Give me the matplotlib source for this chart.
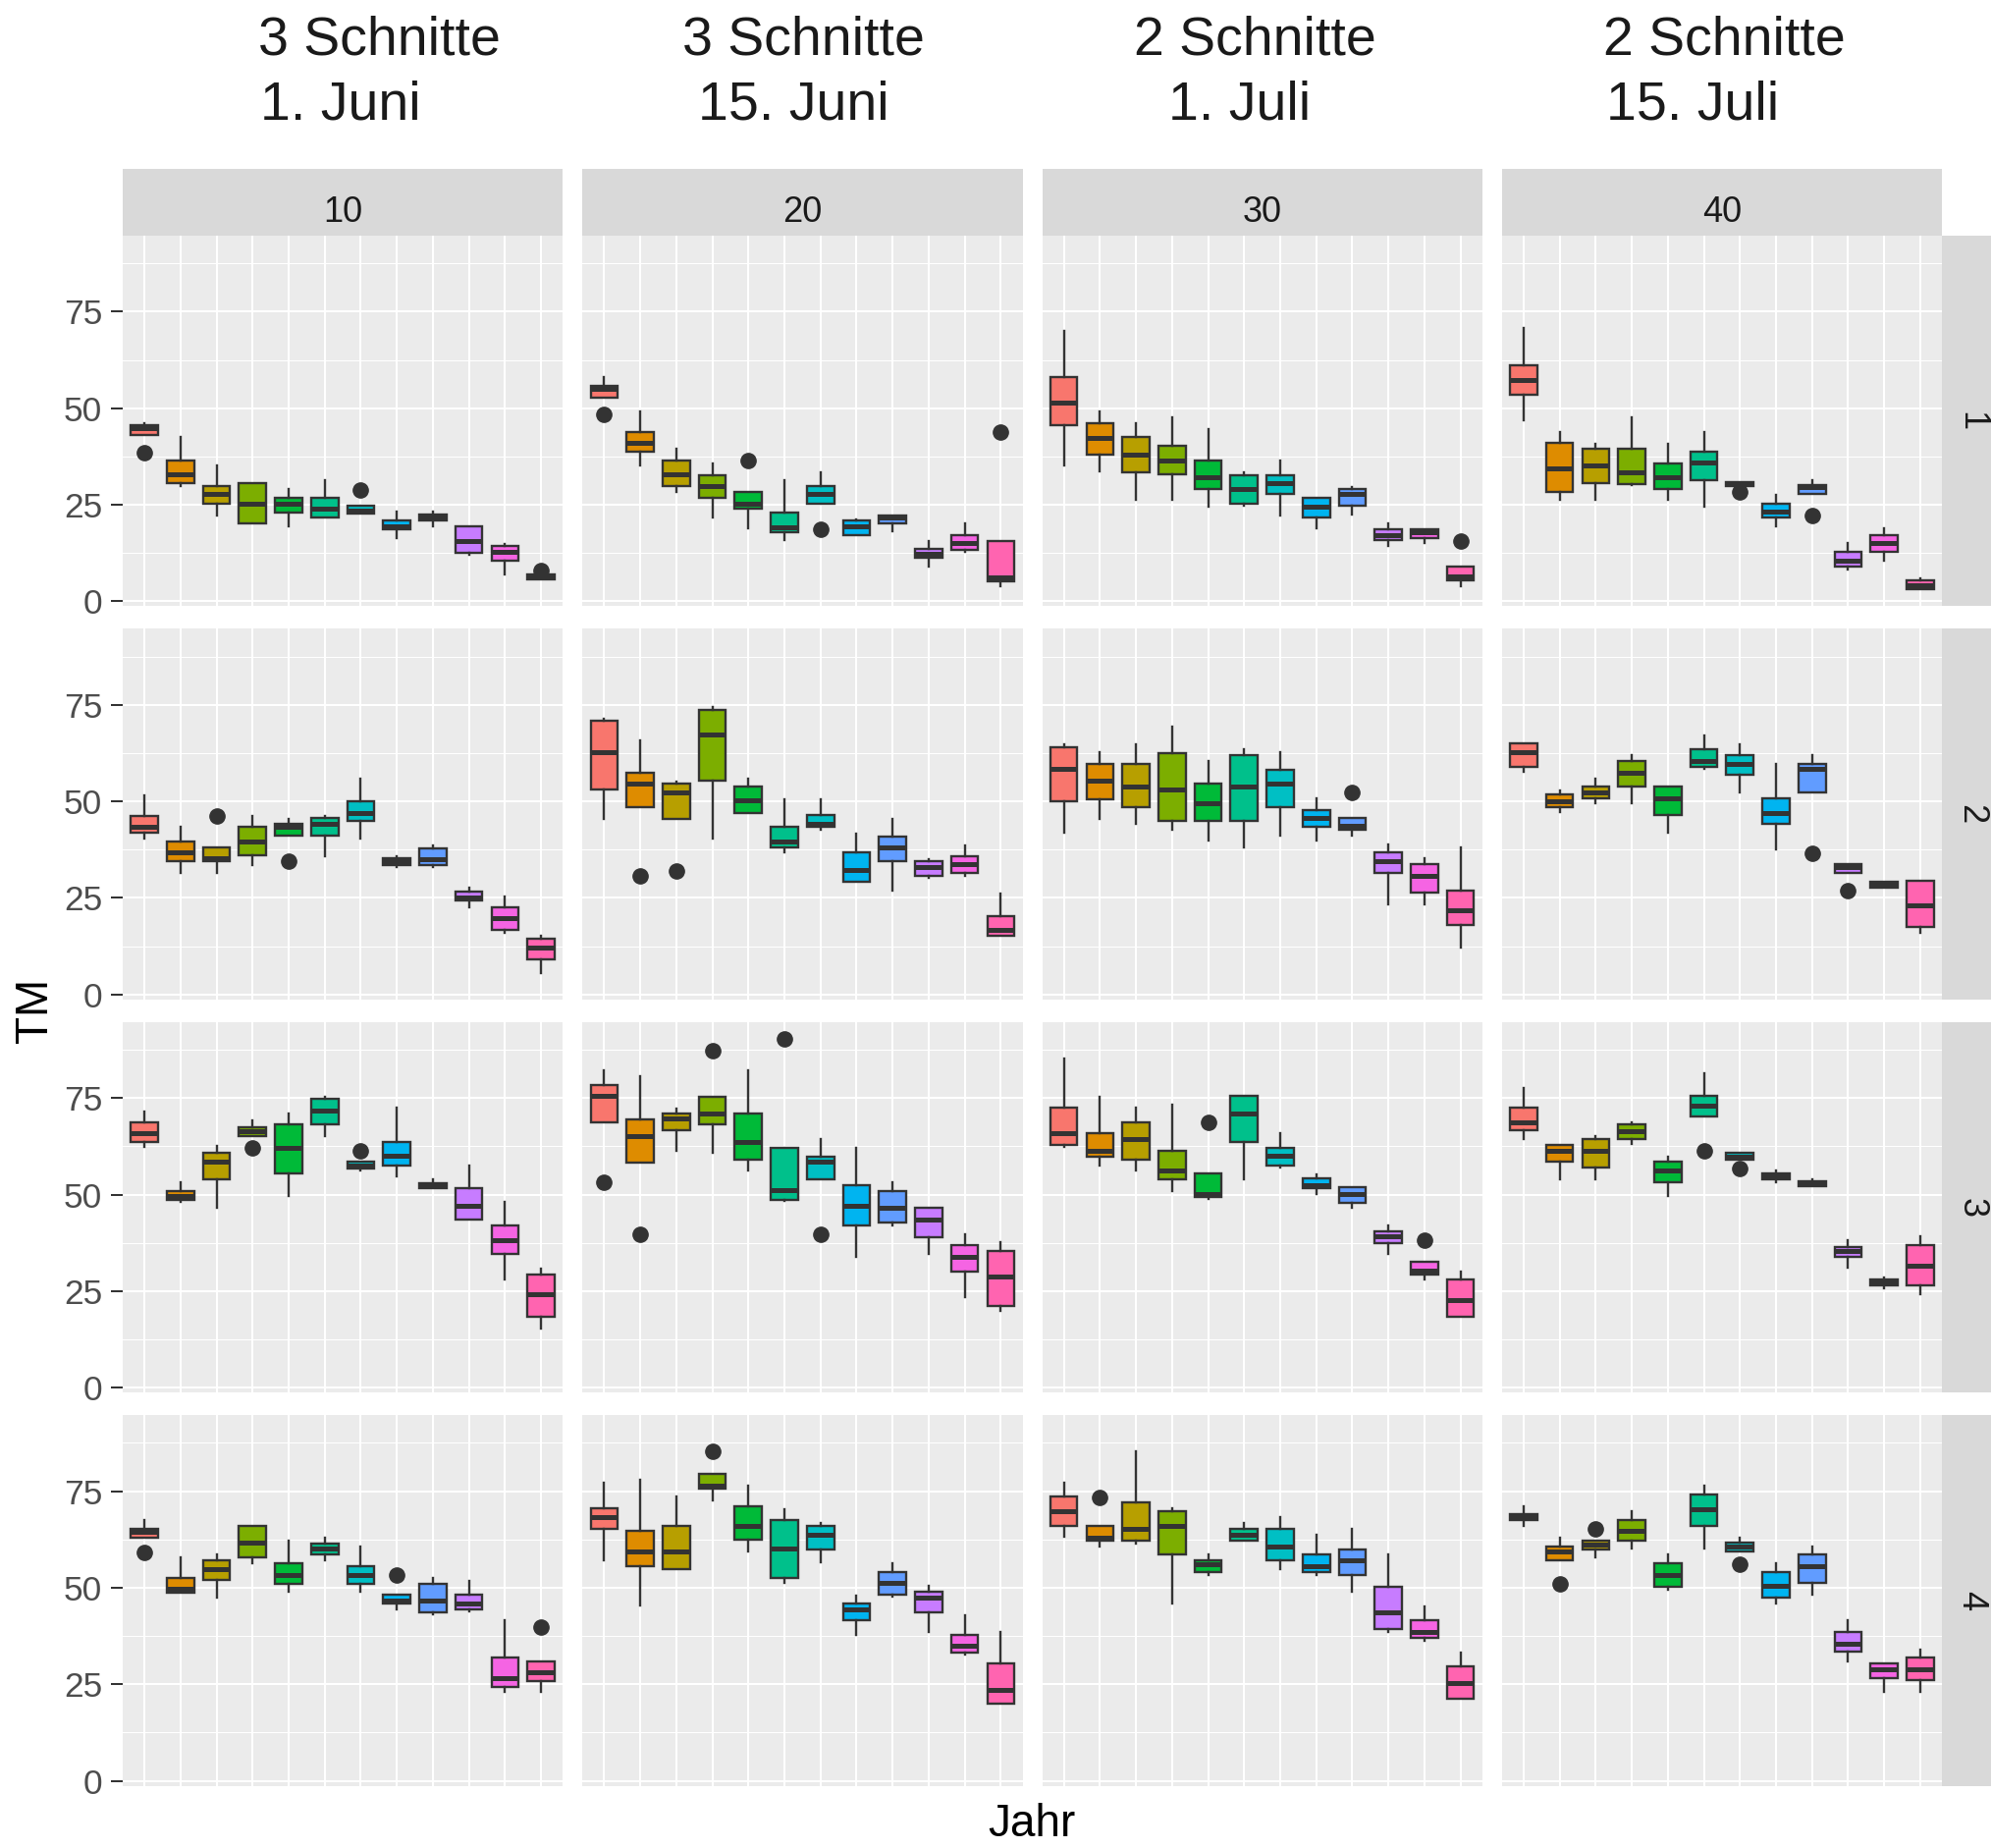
import numpy as np
import matplotlib.pyplot as plt

# facet labels and header
col_labels = ["10", "20", "30", "40"]
row_labels = ["1", "2", "3", "4"]
head_top = ["3 Schnitte", "3 Schnitte", "2 Schnitte", "2 Schnitte"]
head_bottom = ["1. Juni", "15. Juni", "1. Juli", "15. Juli"]
n_years = 12
year_colors = ["#F8766D", "#DE8C00", "#B79F00", "#7CAE00", "#00BA38", "#00C08B",
               "#00BFC4", "#00B4F0", "#619CFF", "#C77CFF", "#F564E3", "#FF64B0"]

# box stats per facet, one tuple per year: (whisker low, q1, median, q3, whisker high)
r1_c10 = [(43.0, 43.0, 44.8, 45.6, 46.1), (29.8, 30.6, 32.9, 36.5, 42.5), (22.3, 25.3, 27.7, 29.9, 35.1),
          (20.1, 20.1, 25.4, 30.6, 30.6), (19.4, 23.0, 25.2, 26.8, 29.0), (21.6, 21.6, 24.0, 26.8, 31.3),
          (22.8, 22.8, 23.5, 24.7, 24.7), (16.4, 18.7, 19.5, 21.0, 23.2), (19.4, 20.9, 21.7, 22.5, 23.2),
          (12.0, 12.6, 15.7, 19.4, 19.4), (6.9, 10.5, 12.7, 14.3, 14.9), (5.6, 5.6, 6.2, 7.0, 7.0)]
r1_c20 = [(52.8, 52.8, 55.0, 55.9, 58.0), (35.1, 38.7, 41.0, 43.9, 49.1), (28.3, 29.8, 32.8, 36.5, 39.5),
          (21.7, 26.8, 29.8, 32.7, 35.8), (18.8, 23.9, 25.3, 28.3, 28.3), (15.8, 17.9, 19.1, 23.1, 31.3),
          (25.3, 25.3, 27.7, 29.9, 33.4), (17.2, 17.2, 19.5, 21.0, 21.3), (18.1, 20.2, 21.7, 22.3, 22.3),
          (9.0, 11.3, 12.2, 13.6, 15.7), (12.7, 13.4, 15.0, 17.2, 20.1), (3.8, 5.2, 6.2, 15.7, 15.7)]
r1_c30 = [(35.1, 45.5, 51.4, 58.0, 69.9), (33.6, 38.1, 42.4, 46.1, 49.1), (26.2, 33.5, 38.0, 42.5, 46.1),
          (26.2, 32.8, 36.5, 40.2, 47.6), (24.6, 29.0, 32.1, 36.5, 44.7), (24.7, 25.3, 29.1, 32.7, 33.4),
          (22.3, 27.7, 30.6, 32.7, 36.4), (18.8, 21.7, 24.6, 26.8, 26.8), (22.5, 24.7, 27.7, 29.1, 29.7),
          (14.4, 15.8, 17.2, 18.7, 20.1), (15.1, 16.5, 17.9, 18.7, 18.7), (3.9, 5.4, 6.4, 8.9, 8.9)]
r1_c40 = [(47.0, 53.6, 57.3, 61.0, 70.8), (26.2, 28.4, 34.4, 41.0, 43.9), (26.2, 30.7, 35.1, 39.5, 40.9),
          (30.0, 30.4, 33.5, 39.5, 47.6), (26.2, 29.1, 32.1, 35.7, 40.9), (24.6, 31.4, 35.9, 38.7, 43.9),
          (29.8, 29.8, 30.3, 30.8, 30.8), (19.4, 21.6, 23.2, 25.3, 27.6), (27.7, 27.7, 29.6, 30.2, 31.3),
          (8.3, 9.0, 10.5, 12.7, 15.0), (10.5, 12.8, 15.0, 17.2, 18.8), (3.1, 3.1, 4.1, 5.5, 6.0)]
r2_c10 = [(40.4, 41.9, 43.4, 46.3, 51.5), (31.5, 34.5, 36.8, 39.7, 43.3), (31.5, 34.4, 35.3, 38.2, 38.2),
          (33.6, 36.0, 39.7, 43.3, 46.1), (41.1, 41.1, 43.4, 44.2, 45.4), (35.9, 41.1, 44.3, 45.7, 46.1),
          (40.4, 44.9, 47.0, 50.0, 55.9), (33.0, 33.6, 34.5, 35.3, 35.8), (33.0, 33.6, 35.1, 37.9, 38.7),
          (22.6, 24.3, 25.1, 26.6, 27.6), (16.0, 16.7, 19.7, 22.5, 25.5), (5.5, 9.2, 12.1, 14.4, 15.1)]
r2_c20 = [(45.5, 53.0, 62.7, 70.8, 71.5), (48.5, 48.5, 54.5, 57.5, 65.7), (45.5, 45.5, 52.3, 54.5, 55.2),
          (40.4, 55.3, 67.2, 73.7, 74.4), (47.1, 47.1, 50.2, 53.8, 55.9), (36.8, 38.1, 39.7, 43.3, 50.6),
          (42.7, 43.3, 44.2, 46.5, 50.6), (29.2, 29.2, 32.2, 36.8, 41.7), (27.0, 34.5, 38.2, 41.0, 45.4),
          (30.2, 30.7, 32.9, 34.6, 35.1), (30.8, 31.4, 33.7, 35.9, 38.7), (15.1, 15.1, 16.7, 20.4, 26.2)]
r2_c30 = [(41.9, 50.0, 58.3, 64.1, 64.8), (45.5, 50.6, 55.3, 59.7, 62.7), (44.2, 48.5, 53.8, 59.7, 64.8),
          (42.6, 44.9, 53.1, 62.6, 69.3), (39.8, 44.9, 49.4, 54.5, 60.4), (38.2, 44.9, 53.8, 62.0, 63.4),
          (41.2, 48.5, 54.5, 58.2, 62.7), (39.8, 43.4, 45.7, 47.8, 50.8), (41.2, 42.6, 43.6, 45.7, 45.7),
          (23.4, 31.4, 34.5, 36.8, 38.9), (23.4, 26.3, 30.7, 33.7, 35.3), (12.1, 18.1, 21.8, 27.0, 38.2)]
r2_c40 = [(57.6, 59.0, 62.7, 65.0, 65.0), (47.2, 48.5, 50.1, 51.7, 52.9), (49.4, 50.8, 52.3, 53.8, 55.9),
          (49.4, 53.8, 57.4, 60.5, 61.9), (41.9, 46.4, 50.7, 53.8, 53.8), (58.3, 59.0, 60.4, 63.5, 67.1),
          (52.3, 56.8, 59.8, 62.0, 64.8), (37.5, 44.1, 47.1, 50.8, 59.7), (52.3, 52.3, 58.3, 59.7, 61.9),
          (31.4, 31.4, 33.0, 33.7, 33.7), (27.7, 27.7, 28.3, 29.1, 29.1), (16.0, 17.5, 23.2, 29.4, 29.4)]
r3_c10 = [(62.3, 63.6, 65.9, 68.8, 71.6), (48.1, 48.7, 49.7, 51.0, 53.1), (46.6, 54.0, 58.5, 60.7, 62.7),
          (65.1, 65.1, 66.5, 67.4, 69.3), (49.5, 55.5, 62.1, 68.1, 71.0), (65.1, 68.1, 71.7, 74.8, 75.4),
          (56.2, 56.8, 57.6, 58.5, 58.5), (54.6, 57.6, 60.0, 63.6, 72.5), (51.7, 51.7, 52.3, 52.9, 53.9),
          (43.6, 43.6, 47.2, 51.7, 57.6), (28.0, 34.7, 38.3, 42.1, 48.0), (15.3, 18.4, 24.3, 29.3, 30.8)]
r3_c20 = [(68.7, 68.7, 75.5, 78.4, 82.2), (58.3, 58.3, 65.2, 69.5, 80.7), (61.4, 66.6, 69.8, 70.9, 72.3),
          (60.7, 68.1, 71.0, 75.4, 75.4), (56.3, 59.1, 63.7, 70.9, 82.2), (48.3, 48.7, 51.1, 62.0, 62.0),
          (54.0, 54.0, 58.6, 59.9, 64.4), (33.8, 42.1, 47.2, 52.4, 62.1), (42.1, 42.7, 46.6, 51.0, 53.1),
          (34.7, 39.0, 43.6, 46.5, 46.5), (23.5, 30.1, 33.8, 36.8, 39.8), (19.8, 21.2, 28.7, 35.3, 37.7)]
r3_c30 = [(62.3, 62.8, 66.0, 72.5, 85.2), (57.6, 59.8, 61.4, 65.8, 75.4), (56.2, 59.1, 64.3, 68.8, 72.5),
          (51.0, 54.0, 56.3, 61.4, 73.3), (48.9, 49.4, 50.1, 55.5, 55.5), (54.0, 63.6, 71.0, 75.6, 75.6),
          (56.9, 57.6, 60.0, 62.2, 65.8), (50.2, 51.7, 52.5, 54.1, 55.3), (46.6, 47.9, 50.1, 51.8, 51.8),
          (34.7, 37.5, 39.2, 40.6, 41.9), (28.0, 29.4, 30.2, 32.5, 32.5), (18.4, 18.4, 22.8, 27.9, 30.0)]
r3_c40 = [(64.4, 66.6, 68.8, 72.5, 77.7), (54.0, 58.5, 61.4, 62.9, 62.9), (54.0, 57.0, 61.4, 64.3, 65.0),
          (63.0, 64.4, 66.4, 68.1, 68.7), (49.5, 53.2, 56.2, 58.4, 59.7), (70.3, 70.3, 73.1, 75.6, 81.4),
          (59.1, 59.1, 59.9, 60.7, 60.7), (53.2, 53.9, 54.6, 55.5, 56.2), (52.1, 52.1, 52.7, 53.4, 53.9),
          (31.0, 33.8, 35.3, 36.3, 38.3), (25.7, 26.4, 27.3, 28.1, 28.5), (24.2, 26.4, 31.7, 36.8, 39.1)]
r4_c10 = [(63.0, 63.0, 64.4, 65.3, 67.4), (48.8, 48.8, 49.8, 52.5, 57.8), (47.4, 51.9, 54.9, 57.1, 58.5),
          (56.3, 57.9, 61.7, 66.0, 66.0), (48.9, 51.1, 53.2, 56.3, 62.3), (57.2, 58.5, 60.1, 61.4, 63.0),
          (48.9, 51.1, 53.4, 55.6, 60.7), (44.4, 45.8, 46.7, 48.3, 48.3), (43.0, 43.7, 46.8, 51.1, 52.5),
          (43.8, 44.4, 46.0, 48.2, 51.8), (23.0, 24.3, 26.6, 31.9, 41.5), (23.0, 25.8, 28.1, 31.0, 31.0)]
r4_c20 = [(57.0, 65.3, 68.2, 70.5, 77.1), (45.3, 55.6, 59.3, 64.6, 78.0), (54.9, 54.9, 59.3, 66.0, 73.5),
          (72.6, 75.7, 76.5, 79.4, 79.4), (59.3, 62.4, 66.0, 71.2, 76.3), (51.3, 52.6, 60.2, 67.5, 70.3),
          (56.5, 60.0, 63.7, 66.0, 66.7), (37.8, 41.5, 44.4, 45.9, 48.0), (47.6, 48.1, 51.2, 54.1, 56.3),
          (38.5, 43.7, 47.4, 49.0, 50.4), (32.7, 33.2, 34.9, 37.8, 42.9), (19.9, 19.9, 23.6, 30.4, 38.5)]
r4_c30 = [(63.1, 66.1, 69.8, 73.5, 77.1), (60.7, 62.1, 63.0, 66.1, 66.1), (61.4, 62.1, 65.3, 72.0, 85.4),
          (45.9, 58.5, 66.1, 69.7, 70.5), (53.4, 54.0, 56.2, 57.2, 58.5), (62.3, 62.3, 63.7, 65.3, 66.7),
          (54.8, 57.0, 60.7, 65.3, 68.2), (53.4, 54.0, 55.6, 58.6, 63.7), (48.9, 53.2, 57.1, 59.9, 65.3),
          (38.5, 39.2, 43.7, 50.3, 58.5), (36.2, 36.9, 38.6, 41.5, 45.1), (21.3, 21.3, 25.2, 29.6, 33.2)]
r4_c40 = [(66.1, 67.5, 68.2, 69.0, 71.0), (57.0, 57.0, 59.3, 60.7, 63.0), (57.9, 60.0, 61.1, 62.3, 62.3),
          (60.2, 62.3, 64.6, 67.5, 69.7), (49.5, 50.2, 53.4, 56.3, 58.5), (60.2, 66.1, 70.4, 74.2, 76.3),
          (59.3, 59.3, 60.7, 61.6, 63.0), (46.0, 47.4, 50.4, 54.1, 56.3), (48.3, 51.2, 55.6, 58.6, 60.7),
          (31.0, 33.4, 35.6, 38.5, 41.5), (23.0, 26.6, 28.9, 30.3, 30.3), (23.0, 26.0, 29.0, 31.9, 34.0)]

# outliers: (row, column, year index, value)
outliers = [(0, 0, 0, 38.5), (0, 0, 6, 28.9), (0, 0, 11, 7.9),
            (0, 1, 0, 48.3), (0, 1, 4, 36.4), (0, 1, 6, 18.7), (0, 1, 11, 43.8),
            (0, 2, 11, 15.7),
            (0, 3, 6, 28.3), (0, 3, 8, 22.1),
            (1, 0, 2, 46.3), (1, 0, 4, 34.4),
            (1, 1, 1, 30.6), (1, 1, 2, 32.1),
            (1, 2, 8, 52.3),
            (1, 3, 8, 36.5), (1, 3, 9, 27.0),
            (2, 0, 3, 62.0), (2, 0, 6, 61.4),
            (2, 1, 0, 53.1), (2, 1, 1, 39.8), (2, 1, 3, 87.3), (2, 1, 5, 90.3), (2, 1, 6, 39.8),
            (2, 2, 4, 68.7), (2, 2, 10, 38.3),
            (2, 3, 5, 61.3), (2, 3, 6, 56.8),
            (3, 0, 0, 59.1), (3, 0, 7, 53.4), (3, 0, 11, 39.8),
            (3, 1, 3, 85.2),
            (3, 2, 1, 73.3),
            (3, 3, 1, 51.0), (3, 3, 2, 65.3), (3, 3, 6, 56.2)]

panels = [[r1_c10, r1_c20, r1_c30, r1_c40],
          [r2_c10, r2_c20, r2_c30, r2_c40],
          [r3_c10, r3_c20, r3_c30, r3_c40],
          [r4_c10, r4_c20, r4_c30, r4_c40]]

# shared y range like ggplot (5% expansion)
all_vals = [v for row in panels for p in row for b in p for v in b] + [o[3] for o in outliers]
lo, hi = min(all_vals), max(all_vals)
pad = 0.05 * (hi - lo)

W, H = 2028, 1882
fig = plt.figure(figsize=(W / 100, H / 100), dpi=100)
plt.rcParams['font.family'] = ['Liberation Sans', 'DejaVu Sans']


def rect(x0, y0, x1, y1):
    return [x0 / W, 1 - y1 / H, (x1 - x0) / W, (y1 - y0) / H]


left0, pw, gx = 125, 448.25, 20
top0, ph, gy = 240, 377.4, 23
edge = "#333333"

for r in range(4):
    for c in range(4):
        x0 = left0 + c * (pw + gx)
        y0 = top0 + r * (ph + gy)
        ax = fig.add_axes(rect(x0, y0, x0 + pw, y0 + ph))
        ax.set_facecolor("#EBEBEB")
        stats = []
        for i, (wl, q1, med, q3, wh) in enumerate(panels[r][c]):
            fl = [o[3] for o in outliers if o[0] == r and o[1] == c and o[2] == i]
            stats.append(dict(whislo=wl, q1=q1, med=med, q3=q3, whishi=wh, fliers=fl))
        bp = ax.bxp(stats, positions=range(1, n_years + 1), widths=0.75, patch_artist=True,
                    showcaps=False,
                    boxprops=dict(edgecolor=edge, linewidth=1.7),
                    medianprops=dict(color=edge, linewidth=3.6, solid_capstyle='butt'),
                    whiskerprops=dict(color=edge, linewidth=1.7),
                    flierprops=dict(marker='o', markerfacecolor=edge, markeredgecolor=edge,
                                    markersize=11, markeredgewidth=1))
        for patch, col in zip(bp['boxes'], year_colors):
            patch.set_facecolor(col)
        ax.set_xlim(0.4, n_years + 0.6)
        ax.set_ylim(lo - pad, hi + pad)
        ax.set_xticks(range(1, n_years + 1))
        ax.set_yticks([0, 25, 50, 75])
        ax.set_yticks([12.5, 37.5, 62.5, 87.5], minor=True)
        ax.set_axisbelow(True)
        ax.grid(which='major', color='white', linewidth=1.45)
        ax.grid(which='minor', axis='y', color='white', linewidth=0.75)
        for s in ax.spines.values():
            s.set_visible(False)
        ax.tick_params(axis='x', which='both', length=0, labelbottom=False)
        ax.tick_params(axis='y', which='minor', length=0)
        if c == 0:
            ax.tick_params(axis='y', which='major', length=8.5, width=1.45, color=edge,
                           labelsize=25.5, labelcolor="#4D4D4D", pad=6.5)
        else:
            ax.tick_params(axis='y', which='major', length=0, labelleft=False)

        if r == 0:
            sx = fig.add_axes(rect(x0, 172, x0 + pw, 240))
            sx.set_facecolor("#D9D9D9")
            sx.set_xticks([])
            sx.set_yticks([])
            for s in sx.spines.values():
                s.set_visible(False)
            fig.text((x0 + pw / 2) / W, 1 - 226 / H, col_labels[c], ha='center', va='baseline',
                     fontsize=26, color="#1A1A1A")
        if c == 3:
            sy = fig.add_axes(rect(x0 + pw, y0, W, y0 + ph))
            sy.set_facecolor("#D9D9D9")
            sy.set_xticks([])
            sy.set_yticks([])
            for s in sy.spines.values():
                s.set_visible(False)
            fig.text(2008 / W, 1 - (y0 + ph / 2) / H, row_labels[r], ha='center', va='center',
                     rotation=-90, fontsize=26, color="#1A1A1A")

# header lines above the columns
top_x = [263, 695, 1155, 1633]
bottom_x = [265, 711, 1190, 1636]
for c in range(4):
    fig.text(top_x[c] / W, 1 - 55 / H, head_top[c], ha='left', va='baseline', fontsize=40, color="#1A1A1A")
    fig.text(bottom_x[c] / W, 1 - 122 / H, head_bottom[c], ha='left', va='baseline', fontsize=40, color="#1A1A1A")

fig.text(36 / W, 1 - 1029 / H, "TM", rotation=90, ha='center', va='center', fontsize=33, color="black")
fig.text(1051 / W, 1 - 1870 / H, "Jahr", ha='center', va='baseline', fontsize=33, color="black")

fig.savefig("out.png", dpi=100)
